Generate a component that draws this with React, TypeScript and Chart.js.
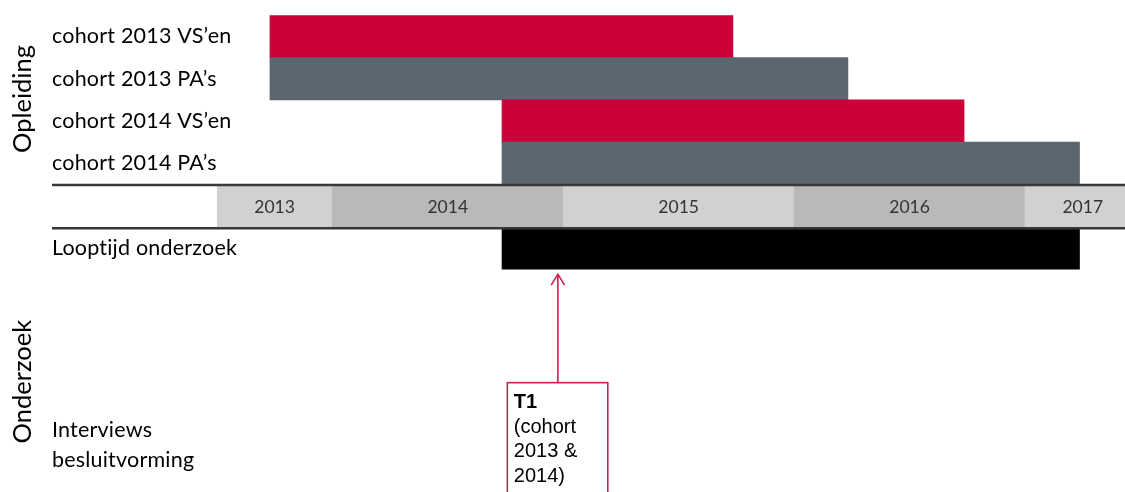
import { useEffect, useRef } from 'react';
import { Chart, registerables } from 'chart.js';

Chart.register(...registerables);

// ---- data ----
const ROW_LABELS: string[][] = [
  ['cohort 2013 VS’en'],
  ['cohort 2013 PA’s'],
  ['cohort 2014 VS’en'],
  ['cohort 2014 PA’s'],
  ['Looptijd onderzoek'],
  ['Interviews', 'besluitvorming'],
];
const ROW_POS = [0.5, 1.5, 2.5, 3.5, 5.5, 10.16];

const BAR_ROWS = [0.5, 1.5, 2.5, 3.5, 5.5];
const BAR_START = [2013.73, 2013.73, 2014.735, 2014.735, 2014.735];
const BAR_END = [2015.735, 2016.233, 2016.736, 2017.236, 2017.236];
const BAR_COLORS = ['#cc0038', '#5b6670', '#cc0038', '#5b6670', '#000000'];

const YEARS = ['2013', '2014', '2015', '2016', '2017'];
const YEAR_START = [2013.5, 2014, 2015, 2016, 2017];
const YEAR_END = [2014, 2015, 2016, 2017, 2017.5];
const YEAR_ROW = 4.5;
const YEAR_COLORS = ['#d1d1d1', '#b9b9b9', '#d1d1d1', '#b9b9b9', '#d1d1d1'];

const SECTION_TITLES = ['Opleiding', 'Onderzoek'];
const SECTION_POS = [1.98, 8.66];
const SEPARATORS = [4.01, 5.035];

const T1_LINES = ['T1', '(cohort', '2013 &', '2014)'];
const T1_X = 2014.977;
const T1_BOX = [2014.758, 2015.193];
const T1_TOP = 8.685;
const T1_ARROW_TIP = 6.12;

const X_MIN = 2013.5;
const X_MAX = 2017.433;
const Y_MAX = 11.27;

const overlay = {
  id: 'overlay',
  afterDatasetsDraw(chart: any) {
    const { ctx, scales } = chart;
    const xs = scales.x;
    const ys = scales.y;
    ctx.save();

    // row labels
    ctx.fillStyle = '#000';
    ctx.font = '21.5px Lato';
    (ctx as any).letterSpacing = '0.2px';
    ctx.textAlign = 'left';
    ctx.textBaseline = 'middle';
    const lh = 30;
    ROW_LABELS.forEach((lines, i) => {
      const cy = ys.getPixelForValue(ROW_POS[i]);
      lines.forEach((l, j) => {
        ctx.fillText(l, 52, cy + (j - (lines.length - 1) / 2) * lh);
      });
    });
    (ctx as any).letterSpacing = '0px';

    // year labels
    ctx.fillStyle = '#333333';
    ctx.font = '17.5px Lato';
    ctx.textAlign = 'center';
    ctx.textBaseline = 'middle';
    YEARS.forEach((y, i) => {
      const cx = xs.getPixelForValue((YEAR_START[i] + YEAR_END[i]) / 2);
      ctx.fillText(y, cx, ys.getPixelForValue(YEAR_ROW) + 2);
    });

    // separator lines
    ctx.strokeStyle = '#383838';
    ctx.lineWidth = 2.5;
    SEPARATORS.forEach((v) => {
      const py = ys.getPixelForValue(v);
      ctx.beginPath();
      ctx.moveTo(52, py);
      ctx.lineTo(chart.width, py);
      ctx.stroke();
    });

    // section titles
    ctx.fillStyle = '#000';
    ctx.font = '25.5px Lato';
    ctx.textAlign = 'center';
    ctx.textBaseline = 'middle';
    SECTION_TITLES.forEach((t, i) => {
      ctx.save();
      ctx.translate(23, ys.getPixelForValue(SECTION_POS[i]));
      ctx.rotate(-Math.PI / 2);
      ctx.fillText(t, 0, 0);
      ctx.restore();
    });

    // T1 arrow and box
    const red = '#cc1f4e';
    const ax = xs.getPixelForValue(T1_X);
    const tipY = ys.getPixelForValue(T1_ARROW_TIP);
    const topY = ys.getPixelForValue(T1_TOP);
    ctx.strokeStyle = red;
    ctx.lineWidth = 1.6;
    ctx.beginPath();
    ctx.moveTo(ax, topY);
    ctx.lineTo(ax, tipY);
    ctx.moveTo(ax - 6.7, tipY + 11);
    ctx.lineTo(ax, tipY);
    ctx.lineTo(ax + 6.7, tipY + 11);
    ctx.stroke();
    const bx0 = xs.getPixelForValue(T1_BOX[0]);
    const bx1 = xs.getPixelForValue(T1_BOX[1]);
    ctx.strokeRect(bx0, topY, bx1 - bx0, chart.height - topY + 10);

    ctx.fillStyle = '#000';
    ctx.textAlign = 'left';
    ctx.textBaseline = 'alphabetic';
    T1_LINES.forEach((l, i) => {
      ctx.font = (i === 0 ? 'bold ' : '') + '20px "Liberation Sans", Arial';
      ctx.fillText(l, bx0 + 6.5, topY + 25.3 + i * 24.7);
    });

    ctx.restore();
  },
};

export default function App() {
  const ref = useRef<HTMLCanvasElement | null>(null);

  useEffect(() => {
    document.body.style.margin = '0';
    const canvas = ref.current;
    if (!canvas) return;
    const chart = new Chart(canvas, {
      type: 'bar',
      data: {
        datasets: [
          {
            data: YEARS.map((_, i) => ({ x: [YEAR_START[i], YEAR_END[i]], y: YEAR_ROW })) as any,
            backgroundColor: YEAR_COLORS,
            grouped: false,
            barPercentage: 1,
            categoryPercentage: 1,
            borderWidth: 0,
          },
          {
            data: BAR_ROWS.map((r, i) => ({ x: [BAR_START[i], BAR_END[i]], y: r })) as any,
            backgroundColor: BAR_COLORS,
            grouped: false,
            barPercentage: 1,
            categoryPercentage: 1,
            borderWidth: 0,
          },
        ],
      },
      options: {
        indexAxis: 'y',
        responsive: false,
        animation: false,
        layout: { padding: { left: 216.85, top: 15.3, right: 0, bottom: 0 } },
        plugins: { legend: { display: false }, tooltip: { enabled: false } },
        scales: {
          x: {
            type: 'linear',
            min: X_MIN,
            max: X_MAX,
            offset: false,
            display: false,
          },
          y: {
            type: 'linear',
            min: 0,
            max: Y_MAX,
            reverse: true,
            offset: false,
            display: false,
          },
        },
      },
      plugins: [overlay],
    } as any);
    return () => chart.destroy();
  }, []);

  return <canvas ref={ref} width={1125} height={492} style={{ display: 'block' }} />;
}
